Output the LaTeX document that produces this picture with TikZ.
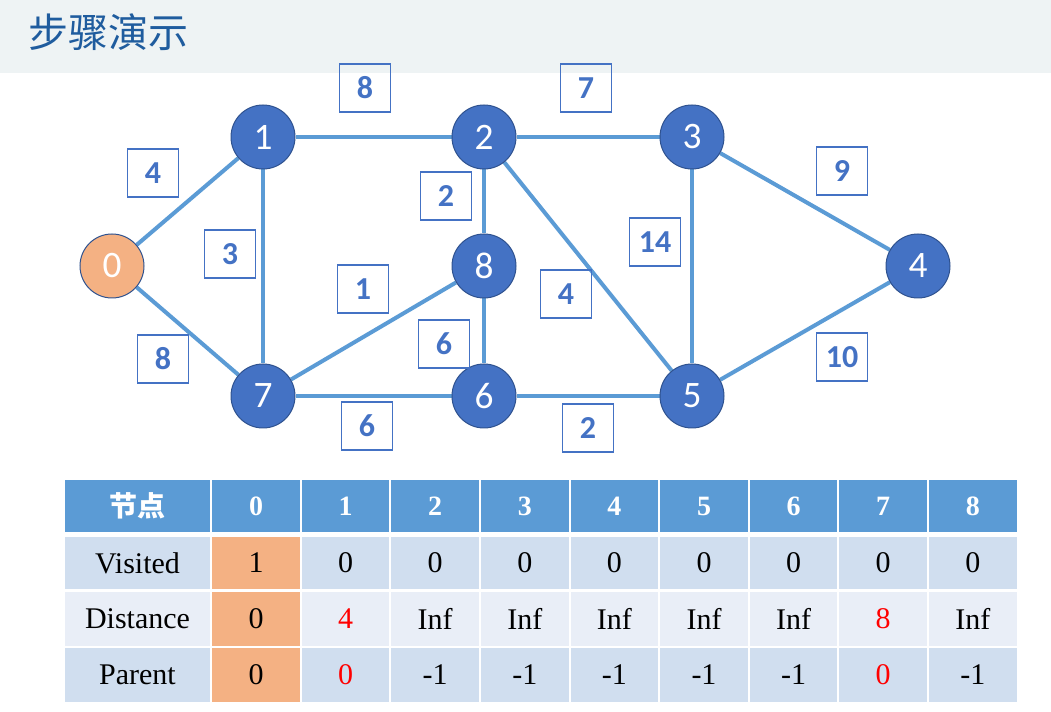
\documentclass[tikz,border=0pt]{standalone}
\usepackage{fontspec}
\setmainfont{Liberation Serif}
\newfontfamily\numfont{Carlito}
\newfontfamily\cjkfont{Noto Sans CJK SC}
\usetikzlibrary{backgrounds}
\definecolor{nodeblue}{HTML}{4472C4}
\definecolor{nodeline}{HTML}{2F528F}
\definecolor{edgeblue}{HTML}{5B9BD5}
\definecolor{startorange}{HTML}{F4B183}
\definecolor{titlebg}{HTML}{EEF3F4}
\definecolor{titleblue}{HTML}{1F5C9E}
\definecolor{rowdark}{HTML}{D0DEEF}
\definecolor{rowlight}{HTML}{E9EEF7}
\definecolor{hotred}{HTML}{FF0000}
\tikzset{
  vertex/.style = {circle, draw=nodeline, line width=0.75pt, fill=nodeblue, minimum size=48pt, inner sep=0pt, text=white, font=\numfont\fontsize{28}{28}\selectfont},
  source/.style = {vertex, fill=startorange},
  weight/.style = {rectangle, draw=nodeblue, line width=0.8pt, minimum width=38pt, minimum height=36pt, inner sep=0pt, text=nodeblue, font=\numfont\bfseries\fontsize{24}{24}\selectfont},
  link/.style = {draw=edgeblue, line width=3pt},
  cell/.style = {rectangle, minimum width=65.7pt, minimum height=39pt, inner sep=0pt, font=\fontsize{22.5}{22.5}\selectfont},
  namecell/.style = {cell, minimum width=108.75pt},
  head/.style = {fill=edgeblue, text=white, font=\bfseries\fontsize{21}{21}\selectfont},
  tall/.style = {minimum height=40.5pt}
}
\begin{document}
\begin{tikzpicture}[x=0.75pt, y=-0.75pt]
\useasboundingbox (0,0) rectangle (1051,712);

% Title band
\fill[titlebg] (0,0) rectangle (1051,73);
\node[anchor=west, inner sep=0pt, text=titleblue, font=\cjkfont\fontsize{30}{30}\selectfont] (title) at (28,32) {步骤演示};

% Vertices
\node[source] (v0) at (112,266) {0};
\node[vertex] (v1) at (263,137) {1};
\node[vertex] (v2) at (484,137) {2};
\node[vertex] (v3) at (692,137) {3};
\node[vertex] (v4) at (918,266) {4};
\node[vertex] (v5) at (692,396) {5};
\node[vertex] (v6) at (484,396) {6};
\node[vertex] (v7) at (263,396) {7};
\node[vertex] (v8) at (484,266) {8};

% Edges (behind the vertices)
\begin{scope}[on background layer]
\draw[link] (v0) -- (v1);
\draw[link] (v0) -- (v7);
\draw[link] (v1) -- (v2);
\draw[link] (v1) -- (v7);
\draw[link] (v2) -- (v3);
\draw[link] (v2) -- (v8);
\draw[link] (v2) -- (v5);
\draw[link] (v3) -- (v5);
\draw[link] (v3) -- (v4);
\draw[link] (v8) -- (v7);
\draw[link] (v8) -- (v6);
\draw[link] (v7) -- (v6);
\draw[link] (v6) -- (v5);
\draw[link] (v5) -- (v4);
\end{scope}

% Edge weights
\node[weight] (w12) at (365,88)  {8};
\node[weight] (w23) at (586,88)  {7};
\node[weight] (w01) at (153,173) {4};
\node[weight] (w17) at (230,254) {3};
\node[weight] (w28) at (446,196) {2};
\node[weight] (w35) at (655,242) {14};
\node[weight] (w34) at (842,171) {9};
\node[weight] (w78) at (363,289) {1};
\node[weight] (w25) at (566,294) {4};
\node[weight] (w86) at (444,344) {6};
\node[weight] (w07) at (163,359) {8};
\node[weight] (w54) at (842,357) {10};
\node[weight] (w76) at (367,426) {6};
\node[weight] (w65) at (588,428) {2};

% Table: header row
\node[namecell, head, font=\cjkfont\bfseries\fontsize{21}{21}\selectfont] (hname) at (137.5,506) {节点};
\node[cell, head] (h0) at (256,506)   {0};
\node[cell, head] (h1) at (345.6,506) {1};
\node[cell, head] (h2) at (435.2,506) {2};
\node[cell, head] (h3) at (524.8,506) {3};
\node[cell, head] (h4) at (614.4,506) {4};
\node[cell, head] (h5) at (704,506)   {5};
\node[cell, head] (h6) at (793.6,506) {6};
\node[cell, head] (h7) at (883.2,506) {7};
\node[cell, head] (h8) at (972.8,506) {8};

% Visited row
\node[namecell, fill=rowdark] (vname) at (137.5,563) {Visited};
\node[cell, fill=startorange] (s0) at (256,563)   {1};
\node[cell, fill=rowdark] (s1) at (345.6,563) {0};
\node[cell, fill=rowdark] (s2) at (435.2,563) {0};
\node[cell, fill=rowdark] (s3) at (524.8,563) {0};
\node[cell, fill=rowdark] (s4) at (614.4,563) {0};
\node[cell, fill=rowdark] (s5) at (704,563)   {0};
\node[cell, fill=rowdark] (s6) at (793.6,563) {0};
\node[cell, fill=rowdark] (s7) at (883.2,563) {0};
\node[cell, fill=rowdark] (s8) at (972.8,563) {0};

% Distance row
\node[namecell, tall, fill=rowlight] (dname) at (137.5,619) {Distance};
\node[cell, tall, fill=startorange] (d0) at (256,619)   {0};
\node[cell, tall, fill=rowlight, text=hotred] (d1) at (345.6,619) {4};
\node[cell, tall, fill=rowlight] (d2) at (435.2,619) {Inf};
\node[cell, tall, fill=rowlight] (d3) at (524.8,619) {Inf};
\node[cell, tall, fill=rowlight] (d4) at (614.4,619) {Inf};
\node[cell, tall, fill=rowlight] (d5) at (704,619)   {Inf};
\node[cell, tall, fill=rowlight] (d6) at (793.6,619) {Inf};
\node[cell, tall, fill=rowlight, text=hotred] (d7) at (883.2,619) {8};
\node[cell, tall, fill=rowlight] (d8) at (972.8,619) {Inf};

% Parent row
\node[namecell, tall, fill=rowdark] (pname) at (137.5,675) {Parent};
\node[cell, tall, fill=startorange] (p0) at (256,675)   {0};
\node[cell, tall, fill=rowdark, text=hotred] (p1) at (345.6,675) {0};
\node[cell, tall, fill=rowdark] (p2) at (435.2,675) {-1};
\node[cell, tall, fill=rowdark] (p3) at (524.8,675) {-1};
\node[cell, tall, fill=rowdark] (p4) at (614.4,675) {-1};
\node[cell, tall, fill=rowdark] (p5) at (704,675)   {-1};
\node[cell, tall, fill=rowdark] (p6) at (793.6,675) {-1};
\node[cell, tall, fill=rowdark, text=hotred] (p7) at (883.2,675) {0};
\node[cell, tall, fill=rowdark] (p8) at (972.8,675) {-1};

\end{tikzpicture}
\end{document}
